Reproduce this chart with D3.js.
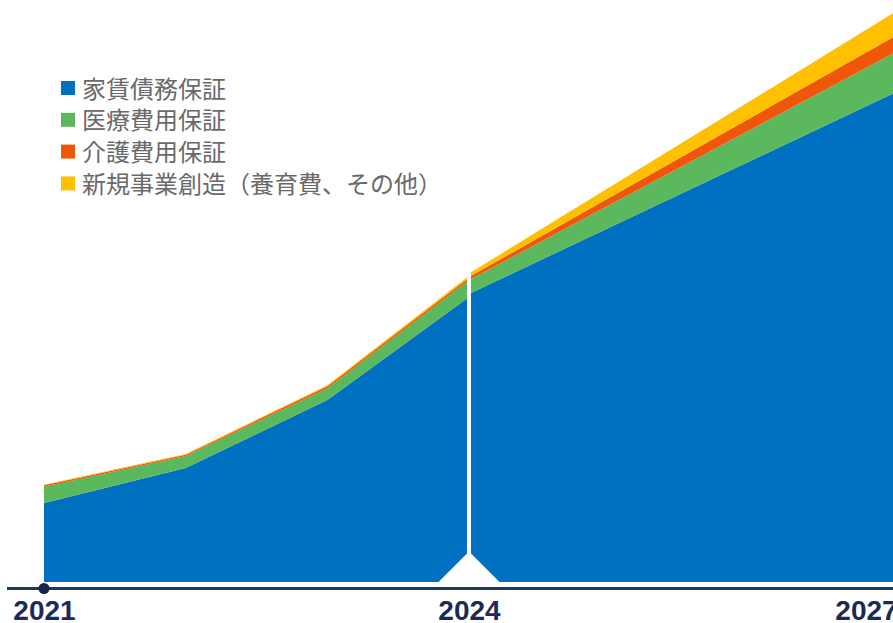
<!DOCTYPE html>
<html>
<head>
<meta charset="utf-8">
<script src="https://cdn.jsdelivr.net/npm/d3@7"></script>
<style>
  html, body { margin: 0; padding: 0; background: #fff; }
  svg { display: block; }
</style>
</head>
<body>
<svg id="chart" width="893" height="623"></svg>
<script>
// ---- data ----
const seriesNames = ["家賃債務保証", "医療費用保証", "介護費用保証", "新規事業創造（養育費、その他）"];
const seriesColors = ["#0070C0", "#5CB85C", "#F0560A", "#FFC000"];

// actual segment (2021–2024)
const actualYears = [2021, 2022, 2023, 2024];
const rentActual    = [27.9, 40.3, 64.3, 100.7];
const medicalActual = [5.8, 4.2, 4.2, 6.0];
const careActual    = [0.5, 0.5, 0.7, 0.8];
const newBizActual  = [0.15, 0.2, 0.35, 0.7];

// plan segment (2024–2027)
const planYears = [2024, 2027];
const rentPlan    = [101.8, 172.8];
const medicalPlan = [4.9, 14.1];
const carePlan    = [1.1, 5.8];
const newBizPlan  = [1.2, 8.5];

const tickYears = [2021, 2024, 2027];

// ---- layout ----
const W = 893, H = 623;
const svg = d3.select("#chart");
const x = d3.scaleLinear().domain([2021, 2027]).range([44, 894]);
const y = d3.scaleLinear().domain([0, 200]).range([582, 16]);

function rows(years, arrs) {
  return years.map((yr, i) => {
    const r = { year: yr };
    seriesNames.forEach((k, j) => r[k] = arrs[j][i]);
    return r;
  });
}
const actualRows = rows(actualYears, [rentActual, medicalActual, careActual, newBizActual]);
const planRows = rows(planYears, [rentPlan, medicalPlan, carePlan, newBizPlan]);

const stack = d3.stack().keys(seriesNames);
const area = d3.area()
  .x(d => x(d.data.year))
  .y0(d => y(d[0]))
  .y1(d => y(d[1]));

const gAreas = svg.append("g");
[actualRows, planRows].forEach(data => {
  gAreas.selectAll(null)
    .data(stack(data))
    .join("path")
    .attr("d", area)
    .attr("fill", (d, i) => seriesColors[i]);
});

// white separator at 2024
const xs = x(2024);
svg.append("line")
  .attr("x1", xs).attr("x2", xs)
  .attr("y1", 0).attr("y2", y(0))
  .attr("stroke", "#fff").attr("stroke-width", 4);
svg.append("path")
  .attr("d", `M${xs - 31.5},${y(0) + 1} L${xs},${y(0) - 30.5} L${xs + 31.5},${y(0) + 1} Z`)
  .attr("fill", "#fff");

// axis
const axisY = 588.5;
svg.append("line")
  .attr("x1", 7).attr("x2", W)
  .attr("y1", axisY).attr("y2", axisY)
  .attr("stroke", "#1B3A60").attr("stroke-width", 3);

const axis = d3.axisBottom(x).tickValues(tickYears).tickSize(0).tickFormat(d3.format("d"));
const gAxis = svg.append("g").attr("transform", `translate(0,${axisY})`).call(axis);
gAxis.select(".domain").remove();
gAxis.selectAll("text")
  .attr("y", 31.5).attr("dy", 0)
  .attr("dx", d => d === 2027 ? -28 : 0)
  .attr("fill", "#1B2A57")
  .style("font-family", "'Liberation Sans', Arial, sans-serif")
  .style("font-weight", "bold")
  .style("font-size", "28px");

svg.append("circle")
  .attr("cx", x(2021)).attr("cy", axisY)
  .attr("r", 5.5).attr("fill", "#14254F");

// legend
const legend = svg.append("g").attr("transform", "translate(61,88)");
const li = legend.selectAll("g").data(seriesNames).join("g")
  .attr("transform", (d, i) => `translate(0,${i * 31.8})`);
li.append("rect")
  .attr("x", 0).attr("y", -7).attr("width", 14).attr("height", 14)
  .attr("fill", (d, i) => seriesColors[i]);
li.append("text")
  .attr("x", 21).attr("y", -1)
  .attr("dominant-baseline", "central")
  .attr("fill", "#696969")
  .style("font-family", "'Noto Sans CJK JP', sans-serif")
  .style("font-size", "24px")
  .text(d => d);
</script>
</body>
</html>
